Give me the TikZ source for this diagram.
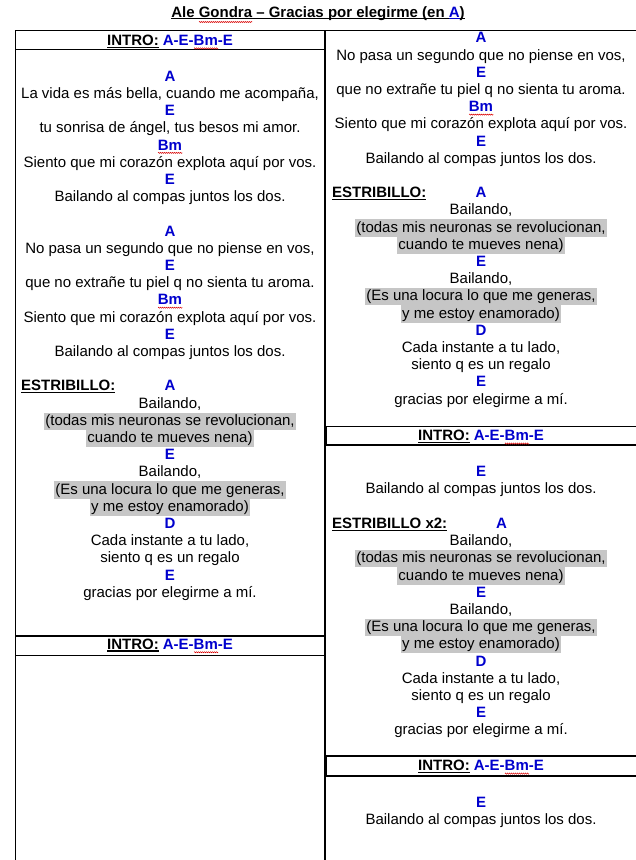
\documentclass[tikz,border=0pt]{standalone}
\usepackage{fontspec}
\setmainfont{Liberation Sans}
\usetikzlibrary{decorations.pathmorphing}
\definecolor{chordblue}{RGB}{0,0,205}
\definecolor{hlgray}{RGB}{198,198,198}
\newsavebox\ulbox
\newsavebox\sqbox
\newcommand\ulin[1]{\sbox\ulbox{#1}\rlap{\rule[-2.4pt]{\wd\ulbox}{1.3pt}}\usebox\ulbox}
\newcommand\sqg[2][2.9pt]{\sbox\sqbox{#2}\rlap{\tikz[baseline=0pt]\draw[red!85!black,line width=0.45pt,decorate,decoration={zigzag,segment length=2pt,amplitude=0.6pt}] (0pt,-#1)--(\wd\sqbox,-#1);}\usebox\sqbox}
\tikzset{
  txt/.style={anchor=base, inner sep=0pt, font=\fontsize{15}{17.2}\selectfont},
  chord/.style={txt, text=chordblue, font=\fontsize{15}{17.2}\selectfont\bfseries},
  hlyr/.style={txt, fill=hlgray, inner xsep=1.2pt, text height=12.7pt, text depth=4.5pt},
  sect/.style={txt, anchor=base west, font=\fontsize{15}{17.2}\selectfont\bfseries},
  boldtxt/.style={txt, font=\fontsize{15}{17.2}\selectfont\bfseries},
  gridline/.style={line width=1.1pt, line cap=rect},
  thickedge/.style={line width=2.2pt}
}
\begin{document}
\begin{tikzpicture}[x=1pt,y=-1pt]
\useasboundingbox (0,0) rectangle (636,860);

% title
\node[boldtxt] (title) at (318,17) {\ulin{Ale \sqg[5pt]{Gondra} – Gracias por elegirme (en }{\color{chordblue}\ulin{A}}\ulin{)}};

% table lines
\draw[gridline] (15.7,860) -- (15.7,30.7) -- (636,30.7);
\draw[gridline] (325,30.7) -- (325,860);
\draw[gridline] (15.7,49.7) -- (325,49.7);
\draw[gridline] (15.7,636) -- (325,636);
\draw[gridline] (15.7,655.3) -- (325,655.3);
\draw[gridline] (325,426.7) -- (636,426.7);
\draw[gridline] (325,445) -- (636,445);
\draw[gridline] (325,756) -- (636,756);
\draw[gridline] (325,776) -- (636,776);
\draw[thickedge] (325.6,426.7) -- (325.6,445);
\draw[thickedge] (325.6,756) -- (325.6,776);

% intro headers
\node[boldtxt] (introL1) at (170,45.5) {\ulin{INTRO:} {\color{chordblue}A-E-\sqg{Bm}-E}};
\node[boldtxt] (introL2) at (170,649.3) {\ulin{INTRO:} {\color{chordblue}A-E-\sqg{Bm}-E}};
\node[boldtxt] (introR1) at (481,440.7) {\ulin{INTRO:} {\color{chordblue}A-E-\sqg{Bm}-E}};
\node[boldtxt] (introR2) at (481,770.7) {\ulin{INTRO:} {\color{chordblue}A-E-\sqg{Bm}-E}};

% left column
\node[chord] (l0) at (170,81.2) {A};
\node[txt] (l1) at (170,98.4) {La vida es más bella, cuando me acompaña,};
\node[chord] (l2) at (170,115.6) {E};
\node[txt] (l3) at (170,132.8) {tu sonrisa de ángel, tus besos mi amor.};
\node[chord] (l4) at (170,150.0) {\sqg{Bm}};
\node[txt] (l5) at (170,167.2) {Siento que mi corazón explota aquí por vos.};
\node[chord] (l6) at (170,184.4) {E};
\node[txt] (l7) at (170,201.6) {Bailando al compas juntos los dos.};
\node[chord] (l9) at (170,236.0) {A};
\node[txt] (l10) at (170,253.2) {No pasa un segundo que no piense en vos,};
\node[chord] (l11) at (170,270.4) {E};
\node[txt] (l12) at (170,287.6) {que no extrañe tu piel q no sienta tu aroma.};
\node[chord] (l13) at (170,304.8) {\sqg{Bm}};
\node[txt] (l14) at (170,322.0) {Siento que mi corazón explota aquí por vos.};
\node[chord] (l15) at (170,339.2) {E};
\node[txt] (l16) at (170,356.4) {Bailando al compas juntos los dos.};
\node[sect] (l18a) at (21,390.8) {\ulin{ESTRIBILLO:}};
\node[chord] (l18) at (170,390.8) {A};
\node[txt] (l19) at (170,408.0) {Bailando,};
\node[hlyr] (l20) at (170,425.2) {(todas mis neuronas se revolucionan,};
\node[hlyr] (l21) at (170,442.4) {cuando te mueves nena)};
\node[chord] (l22) at (170,459.6) {E};
\node[txt] (l23) at (170,476.8) {Bailando,};
\node[hlyr] (l24) at (170,494.0) {(Es una locura lo que me generas,};
\node[hlyr] (l25) at (170,511.2) {y me estoy enamorado)};
\node[chord] (l26) at (170,528.4) {D};
\node[txt] (l27) at (170,545.6) {Cada instante a tu lado,};
\node[txt] (l28) at (170,562.8) {siento q es un regalo};
\node[chord] (l29) at (170,580.0) {E};
\node[txt] (l30) at (170,597.2) {gracias por elegirme a mí.};

% right column, first block
\node[chord] (r0) at (481,42.9) {A};
\node[txt] (r1) at (481,60.1) {No pasa un segundo que no piense en vos,};
\node[chord] (r2) at (481,77.3) {E};
\node[txt] (r3) at (481,94.5) {que no extrañe tu piel q no sienta tu aroma.};
\node[chord] (r4) at (481,111.7) {\sqg{Bm}};
\node[txt] (r5) at (481,128.9) {Siento que mi corazón explota aquí por vos.};
\node[chord] (r6) at (481,146.1) {E};
\node[txt] (r7) at (481,163.3) {Bailando al compas juntos los dos.};
\node[sect] (r9a) at (332,197.7) {\ulin{ESTRIBILLO:}};
\node[chord] (r9) at (481,197.7) {A};
\node[txt] (r10) at (481,214.9) {Bailando,};
\node[hlyr] (r11) at (481,232.1) {(todas mis neuronas se revolucionan,};
\node[hlyr] (r12) at (481,249.3) {cuando te mueves nena)};
\node[chord] (r13) at (481,266.5) {E};
\node[txt] (r14) at (481,283.7) {Bailando,};
\node[hlyr] (r15) at (481,300.9) {(Es una locura lo que me generas,};
\node[hlyr] (r16) at (481,318.1) {y me estoy enamorado)};
\node[chord] (r17) at (481,335.3) {D};
\node[txt] (r18) at (481,352.5) {Cada instante a tu lado,};
\node[txt] (r19) at (481,369.7) {siento q es un regalo};
\node[chord] (r20) at (481,386.9) {E};
\node[txt] (r21) at (481,404.1) {gracias por elegirme a mí.};

% right column, second block
\node[chord] (s0) at (481,476.0) {E};
\node[txt] (s1) at (481,493.2) {Bailando al compas juntos los dos.};
\node[sect] (s3a) at (332,528.5) {\ulin{ESTRIBILLO x2:}};
\node[chord] (s3) at (501.5,528.5) {A};
\node[txt] (s4) at (481,545.7) {Bailando,};
\node[hlyr] (s5) at (481,562.9) {(todas mis neuronas se revolucionan,};
\node[hlyr] (s6) at (481,580.1) {cuando te mueves nena)};
\node[chord] (s7) at (481,597.3) {E};
\node[txt] (s8) at (481,614.5) {Bailando,};
\node[hlyr] (s9) at (481,631.7) {(Es una locura lo que me generas,};
\node[hlyr] (s10) at (481,648.9) {y me estoy enamorado)};
\node[chord] (s11) at (481,666.1) {D};
\node[txt] (s12) at (481,683.3) {Cada instante a tu lado,};
\node[txt] (s13) at (481,700.5) {siento q es un regalo};
\node[chord] (s14) at (481,717.7) {E};
\node[txt] (s15) at (481,734.9) {gracias por elegirme a mí.};

% right column, third block
\node[chord] (t0) at (481,807.3) {E};
\node[txt] (t1) at (481,824.5) {Bailando al compas juntos los dos.};
\end{tikzpicture}
\end{document}
